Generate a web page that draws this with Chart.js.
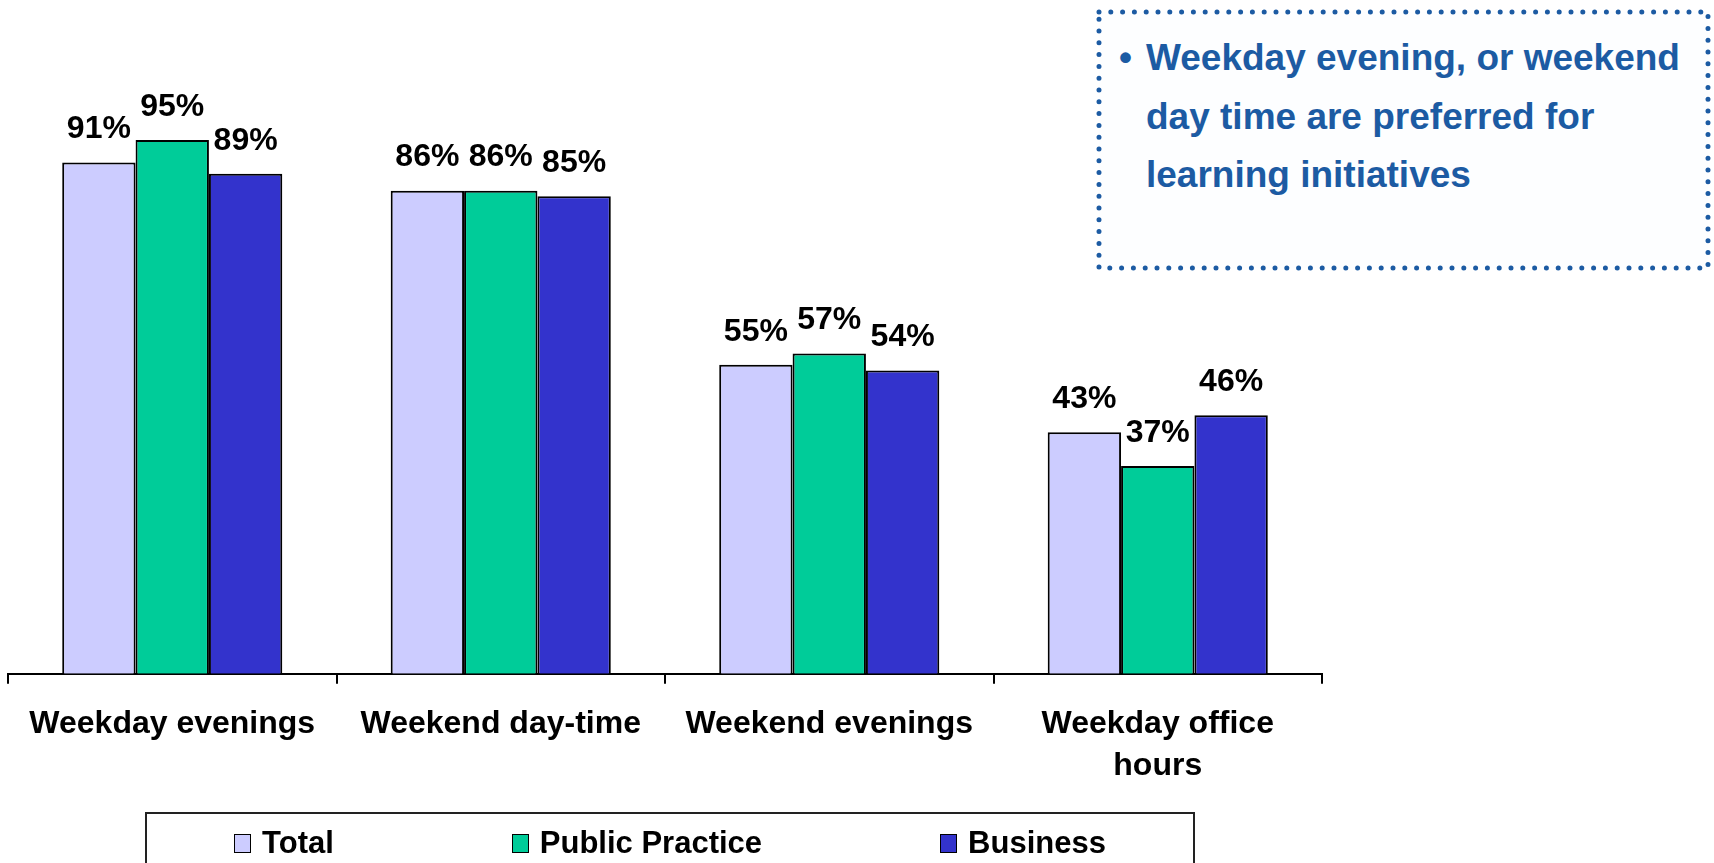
<!DOCTYPE html>
<html>
<head>
<meta charset="utf-8">
<script src="https://cdn.jsdelivr.net/npm/chart.js@4"></script>
<style>
  html, body { margin: 0; padding: 0; background: #fff; }
  body { width: 1714px; height: 863px; position: relative; overflow: hidden; font-family: "Liberation Sans", Arial, sans-serif; }
  #chart { position: absolute; left: 0; top: 0; }
  .note-frame { position: absolute; left: 0; top: 0; }
  .note { position: absolute; left: 1146px; top: 29px; color: #1c5ba3; font-weight: bold; font-size: 37px; line-height: 58.5px; }
  .bullet { position: absolute; left: 1119px; top: 29px; color: #1c5ba3; font-weight: bold; font-size: 37px; line-height: 58.5px; }
  #legend { position: absolute; left: 145px; top: 812px; width: 1050px; height: 60px; border: 2px solid #222;
            display: flex; justify-content: center; align-items: flex-start; gap: 178px; padding-top: 11px; box-sizing: border-box; }
  .item { display: flex; align-items: center; font-weight: bold; font-size: 31px; line-height: 36px; }
  .swatch { width: 15px; height: 17px; border: 1.5px solid #000; margin-right: 11px; }
</style>
</head>
<body>
<canvas id="chart" width="1714" height="863"></canvas>

<svg class="note-frame" width="1714" height="300">
  <rect x="1099" y="12" width="609" height="256" fill="#fdfeff" stroke="#1c5ba3" stroke-width="5"
        stroke-linecap="round" stroke-dasharray="0 11.8"/>
</svg>
<div class="bullet">•</div>
<div class="note">Weekday evening, or weekend<br>day time are preferred for<br>learning initiatives</div>

<div id="legend"></div>

<script>
// categories and values (percent)
const categories = [
  'Weekday evenings',
  'Weekend day-time',
  'Weekend evenings',
  ['Weekday office', 'hours']
];
const total = [91, 86, 55, 43];
const publicPractice = [95, 86, 57, 37];
const business = [89, 85, 54, 46];

// percent labels above each bar
const barLabels = {
  id: 'barLabels',
  afterDatasetsDraw(chart) {
    const ctx = chart.ctx;
    ctx.save();
    ctx.font = 'bold 32px "Liberation Sans", Arial, sans-serif';
    ctx.fillStyle = '#000';
    ctx.textAlign = 'center';
    ctx.textBaseline = 'middle';
    chart.data.datasets.forEach((ds, i) => {
      chart.getDatasetMeta(i).data.forEach((bar, j) => {
        ctx.fillText(ds.data[j] + '%', bar.x, bar.y - 33);
      });
    });
    ctx.restore();
  }
};

const ctx = document.getElementById('chart').getContext('2d');
const chart = new Chart(ctx, {
  type: 'bar',
  data: {
    labels: categories,
    datasets: [{
      label: 'Total',
      data: total,
      backgroundColor: '#ccccff',
      borderColor: '#000',
      borderWidth: 2
    }, {
      label: 'Public Practice',
      data: publicPractice,
      backgroundColor: '#00cc99',
      borderColor: '#000',
      borderWidth: 2
    }, {
      label: 'Business',
      data: business,
      backgroundColor: '#3333cc',
      borderColor: '#000',
      borderWidth: 2
    }]
  },
  options: {
    responsive: false,
    animation: false,
    layout: { padding: { left: 8, right: 392, top: 112, bottom: 56 } },
    datasets: { bar: { categoryPercentage: 0.67, barPercentage: 1 } },
    plugins: {
      legend: { display: false },
      tooltip: { enabled: false }
    },
    scales: {
      x: {
        border: { display: true, color: '#000', width: 2 },
        grid: { display: true, drawOnChartArea: false, drawTicks: true, tickLength: 10, color: '#000', lineWidth: 2 },
        ticks: {
          color: '#000',
          padding: 20,
          maxRotation: 0,
          font: { family: '"Liberation Sans", Arial, sans-serif', size: 32, weight: 'bold', lineHeight: 1.3 }
        }
      },
      y: {
        display: false,
        min: 0,
        max: 100
      }
    }
  },
  plugins: [barLabels]
});

// legend in a framed box under the chart
const legend = document.getElementById('legend');
chart.data.datasets.forEach(ds => {
  const item = document.createElement('div');
  item.className = 'item';
  const sw = document.createElement('span');
  sw.className = 'swatch';
  sw.style.background = ds.backgroundColor;
  item.appendChild(sw);
  item.appendChild(document.createTextNode(ds.label));
  legend.appendChild(item);
});
</script>
</body>
</html>
